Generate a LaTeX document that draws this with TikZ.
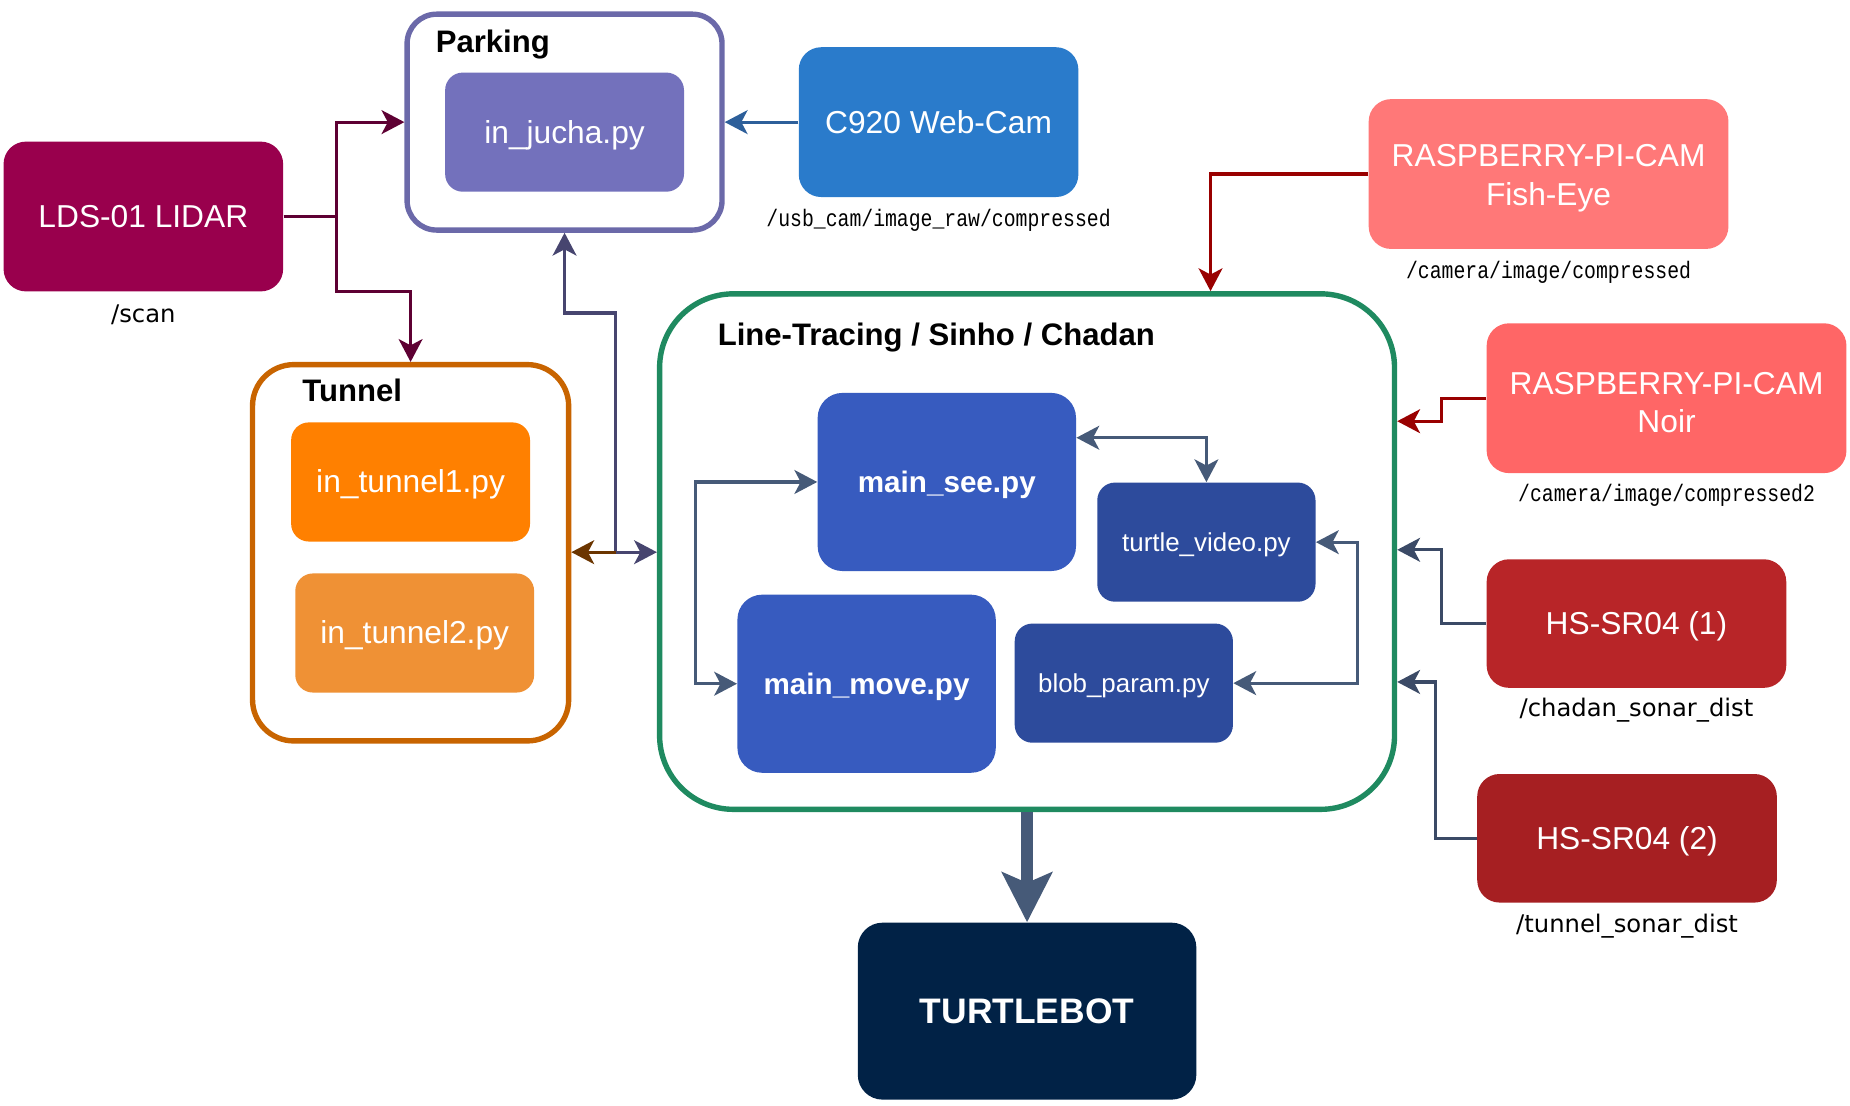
\documentclass[tikz,border=0pt]{standalone}
\usepackage{fontspec}
\setmainfont{Liberation Sans}
\newfontfamily\topicfont{DejaVu Sans}
\newfontfamily\camfont{Liberation Mono}
\usepackage{tikz}
\usetikzlibrary{arrows.meta,shapes,positioning}
\definecolor{lidar}{HTML}{99004D}
\definecolor{lidarline}{HTML}{5E0033}
\definecolor{parkborder}{HTML}{6B69A9}
\definecolor{jucha}{HTML}{7371BC}
\definecolor{webcam}{HTML}{2A7BCB}
\definecolor{webcamline}{HTML}{2D5F9A}
\definecolor{fisheye}{HTML}{FF7878}
\definecolor{noir}{HTML}{FF6666}
\definecolor{camline}{HTML}{990000}
\definecolor{ltborder}{HTML}{1F8A60}
\definecolor{sonarA}{HTML}{B82528}
\definecolor{sonarB}{HTML}{A61F22}
\definecolor{sonarline}{HTML}{3B4A66}
\definecolor{tunborder}{HTML}{C86400}
\definecolor{tunA}{HTML}{FF8000}
\definecolor{tunB}{HTML}{EF9135}
\definecolor{tunline}{HTML}{6B3500}
\definecolor{parkline}{HTML}{47456F}
\definecolor{mainblue}{HTML}{375BBF}
\definecolor{subblue}{HTML}{2D4B9C}
\definecolor{innerline}{HTML}{465A78}
\definecolor{robot}{HTML}{012246}

\begin{document}
\begin{tikzpicture}[x=0.02cm, y=-0.02cm, >={Stealth[length=11pt,width=11.5pt,inset=3pt]}]
\tikzstyle{sensor}=[rectangle, rounded corners=0.38cm, text=white, align=center, inner sep=0pt, font=\fontsize{15.3}{18.7}\selectfont, minimum height=2.54cm]
\tikzstyle{oneline}=[text height=13.85pt, text depth=3.24pt]
\tikzstyle{pyfile}=[rectangle, rounded corners=0.3cm, text=white, align=center, inner sep=0pt, oneline, font=\fontsize{15.3}{18.7}\selectfont, minimum width=4.05cm, minimum height=2.02cm]
\tikzstyle{mainfile}=[pyfile, fill=mainblue, rounded corners=0.42cm, minimum width=4.38cm, minimum height=3.02cm, text height=12.94pt, text depth=3.03pt, font=\fontsize{14.3}{17}\selectfont\bfseries]
\tikzstyle{subfile}=[pyfile, fill=subblue, minimum width=3.7cm, text height=11.31pt, text depth=2.65pt, font=\fontsize{12.5}{15}\selectfont]
\tikzstyle{module}=[rectangle, draw, line width=2.6pt, fill=white]
\tikzstyle{heading}=[anchor=west, inner sep=0pt, text height=13.6pt, text depth=3.2pt, font=\fontsize{15}{18}\selectfont\bfseries]
\tikzstyle{topic}=[inner sep=1pt, font=\topicfont\fontsize{11.7}{14}\selectfont]
\tikzstyle{camtopic}=[inner sep=1pt, xscale=0.83, font=\camfont\fontsize{11.5}{14}\selectfont]
\tikzstyle{link}=[line width=1.5pt, ->]
\useasboundingbox (0,0) rectangle (1568,937);

% groups
\node[module, draw=parkborder, rounded corners=0.5cm, minimum width=5.34cm, minimum height=3.66cm] (0) at (478.5,103.5) {};
\node[heading] (1) at (369,35) {Parking};
\node[pyfile, fill=jucha] (2) at (478.5,112) {in\_jucha.py};
\node[module, draw=tunborder, rounded corners=0.7cm, minimum width=5.36cm, minimum height=6.38cm] (3) at (348,468.5) {};
\node[heading] (4) at (256,331) {Tunnel};
\node[pyfile, fill=tunA] (5) at (348,408.5) {in\_tunnel1.py};
\node[pyfile, fill=tunB] (6) at (351.5,536.5) {in\_tunnel2.py};
\node[module, draw=ltborder, rounded corners=1.25cm, minimum width=12.46cm, minimum height=8.74cm] (7) at (870.5,467.5) {};
\node[heading] (8) at (608,284) {Line-Tracing / Sinho / Chadan};
\node[mainfile] (9) at (802.5,408.5) {main\_see.py};
\node[subfile] (10) at (1022.5,459.5) {turtle\_video.py};
\node[mainfile] (11) at (734.5,579.5) {main\_move.py};
\node[subfile] (12) at (952.5,579) {blob\_param.py};

% sensors
\node[sensor, oneline, fill=lidar, minimum width=4.74cm] (13) at (121.5,183.5) {LDS-01 LIDAR};
\node[topic, below=0.18cm of 13] (14) {/scan};
\node[sensor, oneline, fill=webcam, minimum width=4.74cm] (15) at (795.5,103.5) {C920 Web-Cam};
\node[camtopic, below=0.16cm of 15] (16) {/usb\_cam/image\_raw/compressed};
\node[sensor, fill=fisheye, minimum width=6.1cm] (17) at (1312.5,147.5) {\rule{0pt}{15pt}RASPBERRY-PI-CAM\\Fish-Eye};
\node[camtopic, below=0.16cm of 17] (18) {/camera/image/compressed};
\node[sensor, fill=noir, minimum width=6.1cm] (19) at (1412.5,337.5) {\rule{0pt}{15pt}RASPBERRY-PI-CAM\\Noir};
\node[camtopic, below=0.14cm of 19] (20) {/camera/image/compressed2};
\node[sensor, oneline, fill=sonarA, minimum width=5.08cm, minimum height=2.18cm] (21) at (1387,528.5) {HS-SR04 (1)};
\node[topic, below=0.12cm of 21] (22) {/chadan\_sonar\_dist};
\node[sensor, oneline, fill=sonarB, minimum width=5.08cm, minimum height=2.18cm] (23) at (1379,710.5) {HS-SR04 (2)};
\node[topic, below=0.15cm of 23] (24) {/tunnel\_sonar\_dist};
\node[sensor, fill=robot, rounded corners=0.42cm, minimum width=5.74cm, minimum height=3cm, text height=15.48pt, text depth=3.63pt, font=\fontsize{17.1}{20}\selectfont\bfseries] (25) at (870.5,857) {TURTLEBOT};

% topics into the groups
\draw[link, lidarline] (13.east) -- ++(45,0) |- (0.west);
\draw[link, lidarline] (13.east) -- ++(45,0) -- ++(0,63.5) -| (3.north);
\draw[link, webcamline] (15.west) -- (0.east);
\draw[link, camline] (17.west) -| (7.north -| 1026,0);
\draw[link, camline] (19.west) -- ++(-38,0) |- (7.east |- 0,357);
\draw[link, sonarline] (21.west) -- ++(-38,0) |- (7.east |- 0,466);
\draw[link, sonarline] (23.west) -- ++(-35,0) |- (7.east |- 0,578);

\coordinate (j) at (522,468);
\draw[link, <->, parkline] (0.south) -- ++(0,68) -| (j) -- (7.west |- j);
\draw[link, tunline] (j) -- (3.east |- j);

% inside line tracing
\draw[link, <->, innerline] ([yshift=0.75cm]9.east) -| (10.north);
\draw[link, <->, innerline] (9.west) -- ++(-103,0) |- (11.west);
\draw[link, <->, innerline] (10.east) -- ++(35,0) |- (12.east);
\draw[innerline, line width=5.4pt, -{Stealth[length=24pt,width=24pt,inset=5pt]}] (7.south) -- (25.north);

\end{tikzpicture}
\end{document}
